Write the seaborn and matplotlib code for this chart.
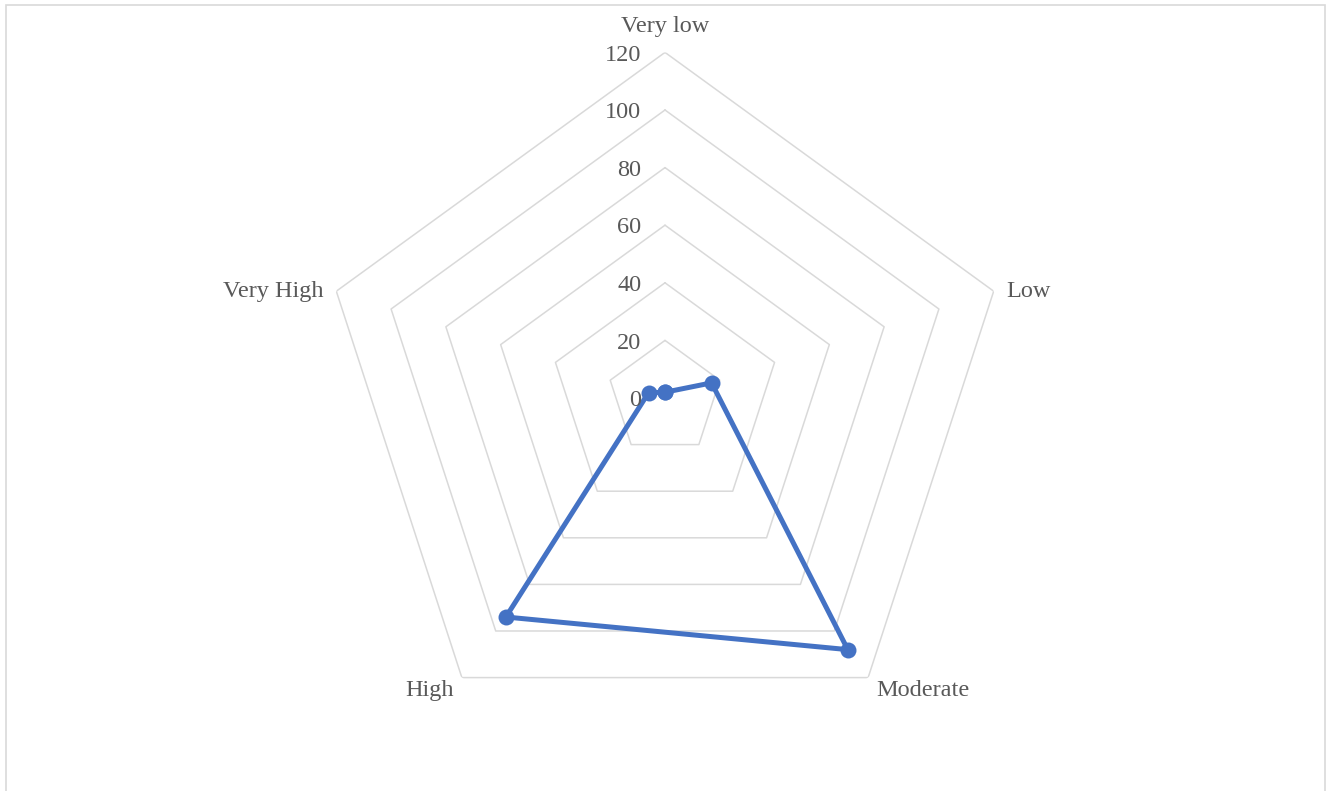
import numpy as np
import pandas as pd
import matplotlib
matplotlib.use("Agg")
import matplotlib.pyplot as plt
import seaborn as sns
from matplotlib.patches import Rectangle

categories = ["Very low", "Low", "Moderate", "High", "Very High"]
values = [2, 17, 108, 94, 6]
ring_levels = [0, 20, 40, 60, 80, 100, 120]
ring_labels = ["0", "20", "40", "60", "80", "100", "120"]

sns.set_theme(style="white")
plt.rcParams["font.family"] = ["Liberation Serif", "DejaVu Serif"]

W, H = 1334, 791
fig = plt.figure(figsize=(W / 100, H / 100), dpi=100)
fig.patch.set_facecolor("white")

R = 345.6
cx, cy = 665, 398
ax = fig.add_axes([(cx - R) / W, (H - cy - R) / H, 2 * R / W, 2 * R / H], projection="polar")
ax.set_theta_offset(np.pi / 2)
ax.set_theta_direction(-1)
ax.set_ylim(0, 120)
ax.grid(False)
ax.spines["polar"].set_visible(False)
ax.set_xticks([])
ax.set_yticks([])
ax.set_facecolor("none")

n = len(categories)
angles = np.arange(n) * 2 * np.pi / n
ang_closed = np.append(angles, angles[0])

grid_color = "#D9D9D9"
text_color = "#595959"
for lev in ring_levels[1:]:
    ax.plot(ang_closed, [lev] * (n + 1), color=grid_color, lw=1.1, zorder=1)

df = pd.DataFrame({"angle": ang_closed, "value": values + [values[0]]})
sns.lineplot(data=df, x="angle", y="value", sort=False, estimator=None, ax=ax,
             color="#4472C4", linewidth=3.6, marker="o", markersize=11.5,
             markeredgewidth=0, zorder=3)
ax.set_xlabel("")
ax.set_ylabel("")
ax.set_ylim(0, 120)
ax.set_xticks([])
ax.set_yticks([])

fs = 17.5
for lev, lab in zip(ring_levels, ring_labels):
    ax.annotate(lab, xy=(0, lev), xytext=(-17, -2), textcoords="offset points",
                ha="right", va="center", fontsize=fs, color=text_color)

offsets = [(0, 18.5, "center"), (9, 0, "left"), (6, -9, "left"), (-6, -9, "right"), (-9, 0, "right")]
for a, cat, (dx, dy, ha) in zip(angles, categories, offsets):
    ax.annotate(cat, xy=(a, 120), xytext=(dx, dy), textcoords="offset points",
                ha=ha, va="center", fontsize=fs, color=text_color, annotation_clip=False)

border = Rectangle((5.5 / W, -0.1), (1324.5 - 5.5) / W, 1.1 - 4.5 / H,
                   transform=fig.transFigure, fill=False, edgecolor="#D9D9D9", lw=1.2)
fig.patches.append(border)

fig.savefig("out.png", dpi=100, facecolor="white")
